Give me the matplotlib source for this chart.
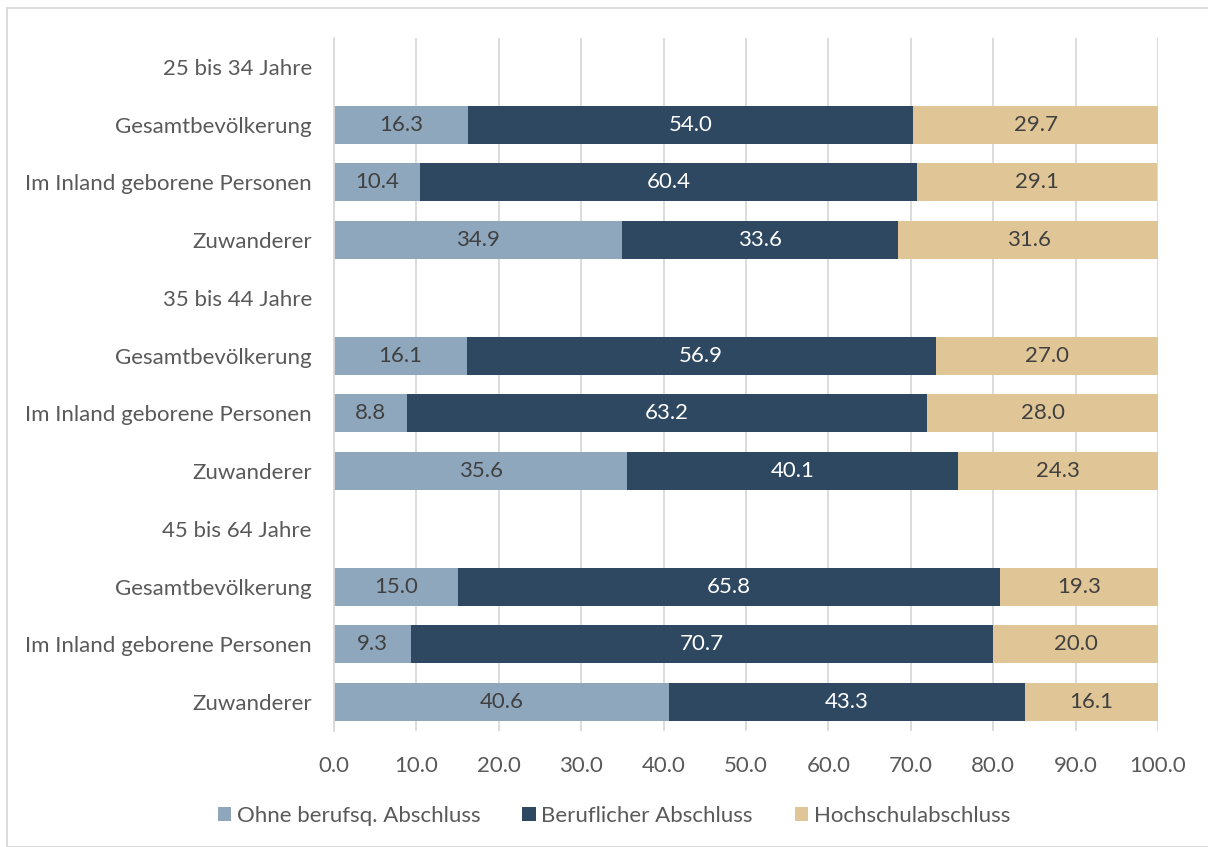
import numpy as np
import matplotlib.pyplot as plt
from matplotlib.patches import Rectangle

plt.rcParams['font.family'] = ['Lato', 'DejaVu Sans']

#---Daten-----
kategorien = ["25 bis 34 Jahre", "Gesamtbevölkerung", "Im Inland geborene Personen", "Zuwanderer",
              "35 bis 44 Jahre", "Gesamtbevölkerung", "Im Inland geborene Personen", "Zuwanderer",
              "45 bis 64 Jahre", "Gesamtbevölkerung", "Im Inland geborene Personen", "Zuwanderer"]
ohne = [np.nan, 16.3, 10.4, 34.9, np.nan, 16.1, 8.8, 35.6, np.nan, 15.0, 9.3, 40.6]
beruf = [np.nan, 54.0, 60.4, 33.6, np.nan, 56.9, 63.2, 40.1, np.nan, 65.8, 70.7, 43.3]
hoch = [np.nan, 29.7, 29.1, 31.6, np.nan, 27.0, 28.0, 24.3, np.nan, 19.3, 20.0, 16.1]
serien = ["Ohne berufsq. Abschluss", "Beruflicher Abschluss", "Hochschulabschluss"]
farben = ["#8FA7BD", "#2E4862", "#E0C597"]
textfarben = ["#404040", "white", "#404040"]
xticks = np.arange(0, 101, 10)

fs = 16
fig = plt.figure(figsize=(12.08, 8.47), dpi=100)
ax = fig.add_axes([334/1208, 1-731/847, (1158-334)/1208, (731-38)/847])

y = np.arange(len(kategorien))
links = np.zeros(len(kategorien))
for werte, name, f, tf in zip([ohne, beruf, hoch], serien, farben, textfarben):
    w = np.array(werte)
    ax.barh(y, np.nan_to_num(w), left=links, height=0.66, color=f, label=name, zorder=2)
    for yi, (l, v) in enumerate(zip(links, w)):
        if not np.isnan(v):
            ax.text(l + v/2, yi, f"{v:.1f}", ha='center', va='center', color=tf, fontsize=fs, zorder=3)
    links = links + np.nan_to_num(w)

ax.set_ylim(len(kategorien) - 0.5, -0.5)
ax.set_xlim(0, 100)
ax.set_yticks(y)
ax.set_yticklabels(kategorien, fontsize=fs, color="#595959")
ax.set_xticks(xticks)
ax.set_xticklabels([f"{v:.1f}" for v in xticks], fontsize=fs, color="#595959")
ax.tick_params(length=0)
ax.tick_params(axis='y', pad=16)
ax.tick_params(axis='x', pad=18)
ax.grid(axis='x', color="#D9D9D9", linewidth=1.3, zorder=0)
for s in ['top', 'right', 'bottom']:
    ax.spines[s].set_visible(False)
ax.spines['left'].set_color("#D9D9D9")
ax.spines['left'].set_linewidth(1.3)

leg = fig.legend(loc='center', bbox_to_anchor=(614/1208, 1-816/847), ncol=3, frameon=False,
                 fontsize=fs, handlelength=0.6, handleheight=0.6, handletextpad=0.25, columnspacing=1.9)
for t in leg.get_texts():
    t.set_color("#595959")

fig.patches.append(Rectangle((7/1208, 0.0), 1.0, 1-8/847, transform=fig.transFigure,
                             fill=False, edgecolor="#D9D9D9", linewidth=1.3))

fig.savefig("out.png", dpi=100)
